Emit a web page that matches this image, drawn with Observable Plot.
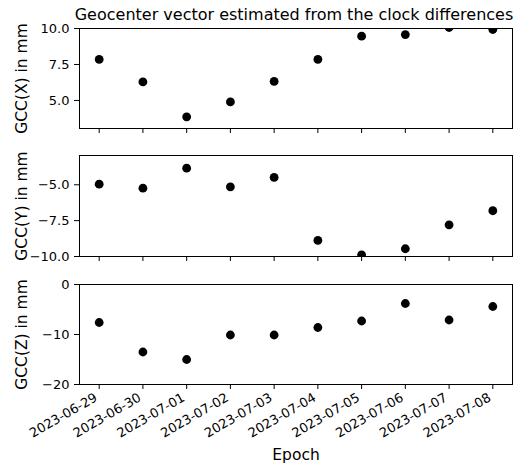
<!DOCTYPE html>
<html>
<head>
<meta charset="utf-8">
<script src="https://cdn.jsdelivr.net/npm/d3@7"></script>
<script src="https://cdn.jsdelivr.net/npm/@observablehq/plot@0.6"></script>
<style>
  html, body { margin: 0; padding: 0; background: white; }
  #chart { position: relative; width: 520px; height: 467px; background: white; font-family: "DejaVu Sans", sans-serif; }
  #chart svg { position: absolute; left: 0; background: transparent; }
</style>
</head>
<body>
<div id="chart"></div>
<script>
const title = "Geocenter vector estimated from the clock differences";
const xLabel = "Epoch";
const epochs = ["2023-06-29","2023-06-30","2023-07-01","2023-07-02","2023-07-03","2023-07-04","2023-07-05","2023-07-06","2023-07-07","2023-07-08"];
const gccX = [7.85, 6.29, 3.86, 4.90, 6.32, 7.85, 9.47, 9.58, 10.07, 9.93];
const gccY = [-4.96, -5.24, -3.84, -5.14, -4.49, -8.88, -9.88, -9.46, -7.79, -6.81];
const gccZ = [-7.6, -13.5, -15.0, -10.1, -10.1, -8.6, -7.3, -3.8, -7.1, -4.4];
const yLabels = ["GCC(X) in mm", "GCC(Y) in mm", "GCC(Z) in mm"];
const yTicks = [[5.0, 7.5, 10.0], [-10.0, -7.5, -5.0], [-20, -10, 0]];
const yDomains = [[3.05, 10.0], [-10.0, -2.96], [-20, 0]];
const yFormats = [d3.format(".1f"), d3.format(".1f"), d3.format("d")];

const dates = epochs.map(s => new Date(s + "T00:00:00Z"));
const day = 86400000;
const xDomain = [new Date(+dates[0] - 0.45 * day), new Date(+dates[dates.length - 1] + 0.45 * day)];
const series = [gccX, gccY, gccZ];

const panels = [
  {top: 0, marginTop: 28, frame: 100, marginBottom: 10},
  {top: 145, marginTop: 10, frame: 101, marginBottom: 10},
  {top: 274, marginTop: 10, frame: 100, marginBottom: 83}
];

const chart = document.getElementById("chart");
const fmtDate = d3.utcFormat("%Y-%m-%d");

panels.forEach((p, i) => {
  const data = dates.map((d, j) => ({date: d, value: series[i][j]}));
  const last = i === panels.length - 1;
  const marks = [
    Plot.frame({stroke: "black", strokeWidth: 1}),
    Plot.axisY({ticks: yTicks[i], tickFormat: yFormats[i], tickSize: 5, tickPadding: 5, label: null}),
    Plot.axisX({ticks: dates, tickSize: 5, label: null, tickFormat: () => ""}),
    Plot.dot(data, {x: "date", y: "value", r: 4.4, fill: "black", stroke: "none", clip: true}),
    Plot.text([yLabels[i]], {frameAnchor: "left", dx: -64, rotate: -90, fontSize: 15.5, lineAnchor: "top", textAnchor: "middle"})
  ];
  if (i === 0) {
    marks.push(Plot.text([title], {frameAnchor: "top", dy: -9, dx: -2, lineAnchor: "bottom", fontSize: 16}));
  }
  if (last) {
    marks.push(Plot.axisX({ticks: dates, tickSize: 0, tickPadding: 9, dx: -3, dy: 3, label: null, tickRotate: -30, tickFormat: fmtDate}));
    marks.push(Plot.text([xLabel], {frameAnchor: "bottom", dy: 71, lineAnchor: "middle", fontSize: 15.5}));
  }
  const svg = Plot.plot({
    width: 520,
    height: p.marginTop + p.frame + p.marginBottom,
    marginLeft: 79,
    marginRight: 8,
    marginTop: p.marginTop,
    marginBottom: p.marginBottom,
    style: {fontFamily: "DejaVu Sans", fontSize: "13px", color: "black", background: "transparent", overflow: "visible"},
    x: {type: "utc", domain: xDomain},
    y: {domain: yDomains[i]},
    marks
  });
  svg.style.top = p.top + "px";
  chart.appendChild(svg);
});
</script>
</body>
</html>
